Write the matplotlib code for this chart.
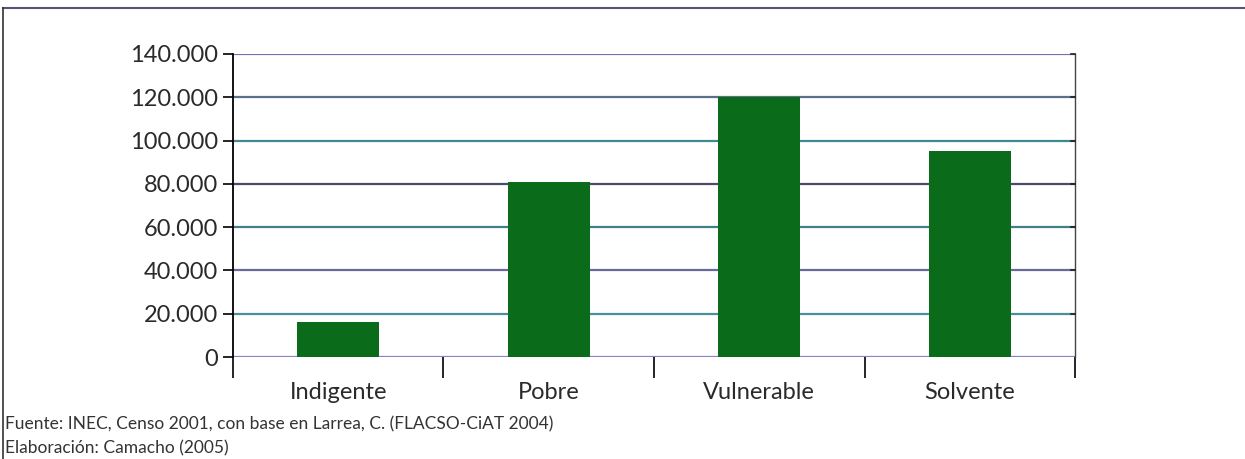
import numpy as np
import matplotlib.pyplot as plt
from matplotlib.lines import Line2D

plt.rcParams['font.family'] = ['Lato', 'DejaVu Sans']

categories = ['Indigente', 'Pobre', 'Vulnerable', 'Solvente']
values = [16000, 81000, 120000, 95000]
yticks = [0, 20000, 40000, 60000, 80000, 100000, 120000, 140000]
ytick_labels = ['0', '20.000', '40.000', '60.000', '80.000', '100.000', '120.000', '140.000']

grid_colors = ['#8a7fc8', '#4a8f9a', '#6a6a9a', '#3f7f8a', '#4a4a6a', '#3f8a92', '#5a6f8a', '#7a6fb0']

fig = plt.figure(figsize=[12.45, 4.59], dpi=100)
ax = fig.add_axes([0.1871, 0.2222, 0.8635 - 0.1871, 0.8824 - 0.2222])

x = np.arange(len(categories))
for yv, c in zip(yticks, grid_colors):
    ax.axhline(yv, color=c, linewidth=1.6, zorder=1)
ax.bar(x, values, width=0.39, color='#0a6b1a', zorder=3)

ax.set_xlim(-0.5, len(categories) - 0.5)
ax.set_ylim(0, 140000)
ax.set_yticks(yticks)
ax.set_yticklabels(ytick_labels, fontsize=17, color='#2a2a2a')
ax.tick_params(axis='y', direction='out', length=7, width=1.2, pad=4)

# category boundaries as x ticks, labels at centres
ax.set_xticks(np.arange(-0.5, len(categories)), minor=False)
ax.set_xticklabels([])
ax.tick_params(axis='x', direction='out', length=15, width=1.2)
ax.set_xticks(x, minor=True)
ax.set_xticklabels(categories, minor=True, fontsize=17, color='#2a2a2a')
ax.tick_params(axis='x', which='minor', length=0, pad=18)

ax.spines['top'].set_visible(False)
ax.spines['bottom'].set_visible(False)
ax.spines['left'].set_linewidth(1.3)
ax.spines['right'].set_linewidth(1.0)
ax.spines['right'].set_color('#444444')

# small inward ticks on the right side
for yv in yticks[1:]:
    ax.plot([3.5 - 0.02, 3.5], [yv, yv], color='#222222', linewidth=1.2,
            clip_on=False, zorder=4)

# outer frame
fig.add_artist(Line2D([0.0024, 1.0], [0.982, 0.982], color='#555577', linewidth=1.5))
fig.add_artist(Line2D([0.0024, 0.0024], [0.982, 0.0], color='#333333', linewidth=1.2))

fig.text(0.004, 0.076, 'Fuente: INEC, Censo 2001, con base en Larrea, C. (FLACSO-CiAT 2004)',
         fontsize=12.5, color='#333333', va='center')
fig.text(0.004, 0.024, 'Elaboración: Camacho (2005)',
         fontsize=12.5, color='#333333', va='center')

fig.savefig('out.png', dpi=100)
